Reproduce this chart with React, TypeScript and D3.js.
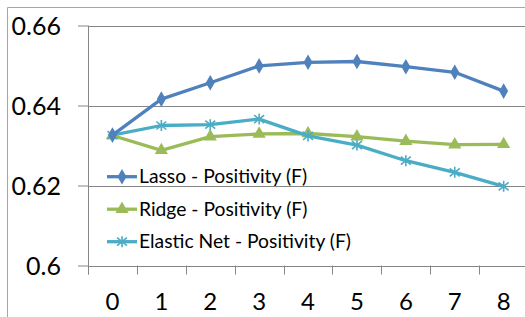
import * as d3 from 'd3'
import { useEffect, useRef } from 'react'

// chart data
const categories = ['0', '1', '2', '3', '4', '5', '6', '7', '8']
const lassoValues = [0.6326, 0.6416, 0.6457, 0.6499, 0.6508, 0.651, 0.6497, 0.6483, 0.6436]
const ridgeValues = [0.6325, 0.6288, 0.6322, 0.6329, 0.633, 0.6322, 0.6311, 0.6302, 0.6303]
const elasticValues = [0.6326, 0.635, 0.6352, 0.6366, 0.6324, 0.6301, 0.6262, 0.6233, 0.6198]
const yTicks = [0.6, 0.62, 0.64, 0.66]
const yTickLabels = ['0.6', '0.62', '0.64', '0.66']
const seriesNames = ['Lasso - Positivity (F)', 'Ridge - Positivity (F)', 'Elastic Net - Positivity (F)']

const width = 525
const height = 317

const App = () => {
  const svgRef = useRef<SVGSVGElement>(null)

  useEffect(() => {
    const svg = d3.select(svgRef.current)
    svg.selectAll('*').remove()

    const margin = { left: 88, top: 25.5, bottom: 265.5 }
    const step = 48.9

    const xScale = d3
      .scaleBand()
      .domain(categories)
      .range([margin.left, margin.left + step * categories.length])
    const yScale = d3.scaleLinear().domain([0.6, 0.66]).range([margin.bottom, margin.top])

    const font = 'Lato, "Open Sans", sans-serif'

    // chart frame (cropped on right/bottom)
    svg
      .append('path')
      .attr('d', `M7.5,${height} V7.5 H${width}`)
      .attr('fill', 'none')
      .attr('stroke', '#a6a6a6')
      .attr('stroke-width', 1)

    // grid + y axis
    const yAxis = d3
      .axisLeft(yScale)
      .tickValues(yTicks)
      .tickSize(10)
      .tickPadding(0)
      .tickFormat(() => '')
    svg
      .append('g')
      .attr('transform', `translate(${margin.left},0)`)
      .call(yAxis)
      .call((g) => g.select('.domain').remove())
      .call((g) => g.selectAll('line').attr('stroke', '#868686'))

    svg
      .append('g')
      .selectAll('line')
      .data(yTicks)
      .enter()
      .append('line')
      .attr('x1', margin.left)
      .attr('x2', width)
      .attr('y1', (d) => Math.round(yScale(d)) + 0.5)
      .attr('y2', (d) => Math.round(yScale(d)) + 0.5)
      .attr('stroke', '#868686')
      .attr('stroke-width', 1)

    svg
      .append('g')
      .selectAll('text')
      .data(yTicks)
      .enter()
      .append('text')
      .attr('x', 61)
      .attr('y', (d) => yScale(d))
      .attr('dy', '0.36em')
      .attr('text-anchor', 'end')
      .style('font-family', font)
      .style('font-size', '25px')
      .attr('fill', '#000')
      .text((d, i) => yTickLabels[i])

    // left axis line
    svg
      .append('line')
      .attr('x1', margin.left + 0.5)
      .attr('x2', margin.left + 0.5)
      .attr('y1', margin.top)
      .attr('y2', margin.bottom + 9)
      .attr('stroke', '#868686')

    // x axis ticks at band boundaries
    const boundaries = d3.range(categories.length + 1).map((i) => margin.left + i * xScale.step())
    svg
      .append('g')
      .selectAll('line')
      .data(boundaries)
      .enter()
      .append('line')
      .attr('x1', (d) => Math.round(d) + 0.5)
      .attr('x2', (d) => Math.round(d) + 0.5)
      .attr('y1', margin.bottom)
      .attr('y2', margin.bottom + 9)
      .attr('stroke', '#868686')

    svg
      .append('g')
      .selectAll('text')
      .data(categories)
      .enter()
      .append('text')
      .attr('x', (d) => (xScale(d) as number) + xScale.bandwidth() / 2)
      .attr('y', 310)
      .attr('text-anchor', 'middle')
      .style('font-family', font)
      .style('font-size', '24px')
      .attr('fill', '#000')
      .text((d) => d)

    // series
    const series = [
      { name: seriesNames[0], values: lassoValues, color: '#4F81BD', marker: 'diamond' },
      { name: seriesNames[1], values: ridgeValues, color: '#9BBB59', marker: 'triangle' },
      { name: seriesNames[2], values: elasticValues, color: '#4BACC6', marker: 'star' },
    ]

    const cx = (i: number) => (xScale(categories[i]) as number) + xScale.bandwidth() / 2
    const line = d3
      .line<number>()
      .x((d, i) => cx(i))
      .y((d) => yScale(d))

    const drawMarker = (g: d3.Selection<SVGGElement, unknown, null, undefined>, kind: string, color: string) => {
      if (kind === 'diamond') {
        g.append('path').attr('d', d3.symbol().type(d3.symbolDiamond).size(70)()).attr('fill', color)
      } else if (kind === 'triangle') {
        g.append('path')
          .attr('d', d3.symbol().type(d3.symbolTriangle).size(75)())
          .attr('fill', color)
      } else {
        g.append('path')
          .attr('d', 'M0,-5.5V5.5M-5,-4L5,4M-5,4L5,-4')
          .attr('stroke', color)
          .attr('stroke-width', 1.6)
          .attr('fill', 'none')
      }
    }

    // draw order: ridge, elastic, lasso on top
    ;[series[1], series[2], series[0]].forEach((s) => {
      svg
        .append('path')
        .datum(s.values)
        .attr('d', line)
        .attr('fill', 'none')
        .attr('stroke', s.color)
        .attr('stroke-width', 3.3)
        .attr('stroke-linejoin', 'round')
      s.values.forEach((v, i) => {
        const g = svg.append('g').attr('transform', `translate(${cx(i)},${yScale(v)})`)
        drawMarker(g as any, s.marker, s.color)
      })
    })

    // legend
    series.forEach((s, i) => {
      const y = 176.7 + i * 32.5
      svg
        .append('line')
        .attr('x1', 107)
        .attr('x2', 137)
        .attr('y1', y)
        .attr('y2', y)
        .attr('stroke', s.color)
        .attr('stroke-width', 3.3)
      const g = svg.append('g').attr('transform', `translate(122,${y})`)
      drawMarker(g as any, s.marker, s.color)
      svg
        .append('text')
        .attr('x', 139)
        .attr('y', y + 6.5)
        .style('font-family', font)
        .style('font-size', '19.3px')
        .attr('fill', '#000')
        .text(s.name)
    })
  }, [])

  return (
    <svg
      ref={svgRef}
      width={width}
      height={height}
      style={{ position: 'absolute', left: 0, top: 0, background: '#fff' }}
    />
  )
}

export default App
